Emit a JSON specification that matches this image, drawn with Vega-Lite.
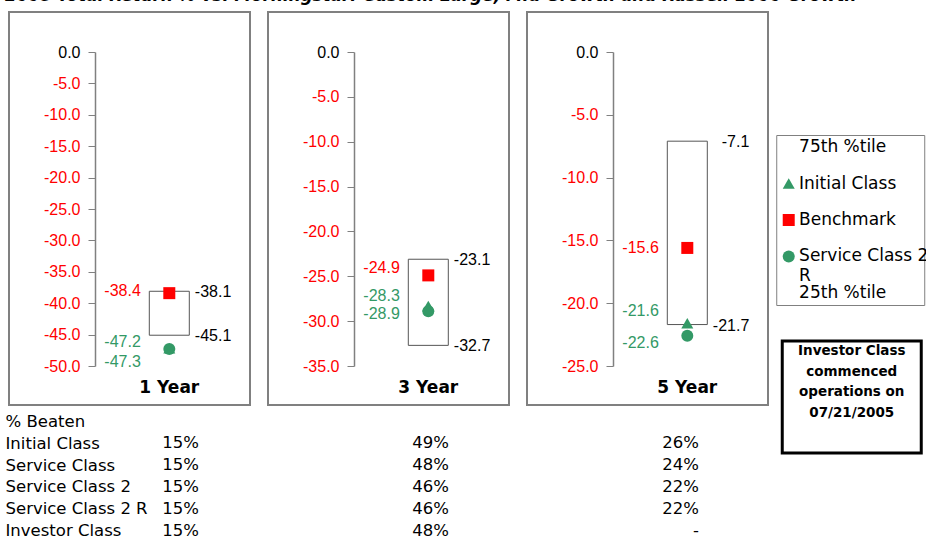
{
  "$schema": "https://vega.github.io/schema/vega-lite/v6.json",
  "padding": {"left": 5, "right": 0, "top": -12, "bottom": 0},
  "title": {"text": "2008 Total Return % vs. Morningstar: Custom Large, Mid Growth and Russell 1000 Growth", "anchor": "start", "font": "DejaVu Sans", "fontSize": 16.8, "fontWeight": "bold", "fontStyle": "italic", "color": "black", "offset": 6},
  "config": {
    "locale": {"number": {"decimal": ".", "thousands": ",", "grouping": [3], "currency": ["$", ""], "minus": "-"}},
    "view": {"stroke": "#808080", "strokeWidth": 2},
    "font": "Liberation Sans",
    "axis": {"labelOverlap": false, "labelSeparation": 0, "labelBound": false},
    "axisY": {"labelOverlap": false, "tickCount": 30}
  },
  "datasets": {
    "stats": [
      {"period": "1 Year", "p75": -38.1, "p25": -45.1},
      {"period": "3 Year", "p75": -23.1, "p25": -32.7},
      {"period": "5 Year", "p75": -7.1, "p25": -21.7}
    ],
    "series": [
      {"period": "1 Year", "series": "Initial Class", "value": -47.2},
      {"period": "1 Year", "series": "Benchmark", "value": -38.4},
      {"period": "1 Year", "series": "Service Class 2 R", "value": -47.3},
      {"period": "3 Year", "series": "Initial Class", "value": -28.3},
      {"period": "3 Year", "series": "Benchmark", "value": -24.9},
      {"period": "3 Year", "series": "Service Class 2 R", "value": -28.9},
      {"period": "5 Year", "series": "Initial Class", "value": -21.6},
      {"period": "5 Year", "series": "Benchmark", "value": -15.6},
      {"period": "5 Year", "series": "Service Class 2 R", "value": -22.6}
    ],
    "legend": [
      {"item": "75th %tile", "label": "75th %tile"},
      {"item": "Initial Class", "series": "Initial Class", "label": "Initial Class"},
      {"item": "Benchmark", "series": "Benchmark", "label": "Benchmark"},
      {"item": "Service Class 2 R", "series": "Service Class 2 R", "label": "Service Class 2\nR"},
      {"item": "25th %tile", "label": "25th %tile"}
    ],
    "beaten": [
      {"cls": "Initial Class", "col": "1 Year", "pct": "15%"},
      {"cls": "Initial Class", "col": "3 Year", "pct": "49%"},
      {"cls": "Initial Class", "col": "5 Year", "pct": "26%"},
      {"cls": "Service Class", "col": "1 Year", "pct": "15%"},
      {"cls": "Service Class", "col": "3 Year", "pct": "48%"},
      {"cls": "Service Class", "col": "5 Year", "pct": "24%"},
      {"cls": "Service Class 2", "col": "1 Year", "pct": "15%"},
      {"cls": "Service Class 2", "col": "3 Year", "pct": "46%"},
      {"cls": "Service Class 2", "col": "5 Year", "pct": "22%"},
      {"cls": "Service Class 2 R", "col": "1 Year", "pct": "15%"},
      {"cls": "Service Class 2 R", "col": "3 Year", "pct": "46%"},
      {"cls": "Service Class 2 R", "col": "5 Year", "pct": "22%"},
      {"cls": "Investor Class", "col": "1 Year", "pct": "15%"},
      {"cls": "Investor Class", "col": "3 Year", "pct": "48%"},
      {"cls": "Investor Class", "col": "5 Year", "pct": "-"}
    ],
    "note": [
      {"t": "Investor Class\ncommenced\noperations on\n07/21/2005"}
    ]
  },
  "spacing": 6,
  "hconcat": [
    {
      "spacing": 7,
      "vconcat": [
        {
          "spacing": 16,
          "resolve": {"scale": {"x": "independent", "y": "independent"}},
          "hconcat": [
            {
              "width": 241, "height": 393,
              "encoding": {
                "x": {"field": "period", "type": "nominal", "scale": {"type": "band", "paddingInner": 0.602, "paddingOuter": 1, "align": 0.698},
                  "axis": {"orient": "bottom", "domain": false, "ticks": false, "tickSize": 0, "labelPadding": 0, "offset": -26, "labelAngle": 0, "labelFont": "DejaVu Sans", "labelFontSize": 17, "labelFontWeight": "bold", "labelColor": "black", "title": null}}
              },
              "layer": [
                {"data": {"name": "stats"}, "transform": [{"filter": "datum.period === '1 Year'"}],
                  "mark": {"type": "bar", "fill": "white", "stroke": "#555555", "strokeWidth": 1},
                  "encoding": {
                    "y": {"field": "p75", "type": "quantitative", "title": null,
                      "scale": {"domain": [-50, 0], "range": [354, 40], "nice": false, "zero": false},
                      "axis": {"values": [0, -5, -10, -15, -20, -25, -30, -35, -40, -45, -50], "tickCount": 30, "format": ".1f", "offset": -86, "tickSize": 7, "labelPadding": 8, "grid": false, "title": null,
                        "labelColor": {"condition": {"test": "datum.value === 0", "value": "black"}, "value": "#FF0000"},
                        "labelFont": "Liberation Sans", "labelFontSize": 16, "domainColor": "#808080", "tickColor": "#808080", "domainWidth": 1.5, "labelOverlap": false}},
                    "y2": {"field": "p25"}
                  }},
                {"data": {"name": "stats"}, "transform": [{"filter": "datum.period === '1 Year'"}, {"fold": ["p75", "p25"], "as": ["k", "v"]}],
                  "mark": {"type": "text", "align": "right", "baseline": "middle", "dx": 62, "dy": 1, "font": "Liberation Sans", "fontSize": 16, "color": "black"},
                  "encoding": {"y": {"field": "v", "type": "quantitative", "title": null}, "text": {"field": "v", "type": "quantitative", "format": ".1f"}}},
                {"data": {"name": "series"}, "transform": [{"filter": "datum.period === '1 Year'"}],
                  "mark": {"type": "point", "filled": true, "size": 144, "opacity": 1},
                  "encoding": {"y": {"field": "value", "type": "quantitative", "title": null},
                    "shape": {"field": "series", "type": "nominal", "scale": {"domain": ["Initial Class", "Benchmark", "Service Class 2 R"], "range": ["triangle-up", "square", "circle"]}, "legend": null},
                    "color": {"field": "series", "type": "nominal", "scale": {"domain": ["Initial Class", "Benchmark", "Service Class 2 R"], "range": ["#339966", "#FF0000", "#339966"]}, "legend": null}}},
                {"data": {"name": "series"}, "transform": [{"filter": "datum.period === '1 Year' && datum.series === 'Benchmark'"}],
                  "mark": {"type": "text", "align": "right", "baseline": "middle", "dx": -28.5, "dy": -2.5, "font": "Liberation Sans", "fontSize": 16, "color": "#FF0000"},
                  "encoding": {"y": {"field": "value", "type": "quantitative", "title": null}, "text": {"field": "value", "type": "quantitative", "format": ".1f"}}},
                {"data": {"name": "series"}, "transform": [{"filter": "datum.period === '1 Year' && datum.series === 'Initial Class'"}],
                  "mark": {"type": "text", "align": "right", "baseline": "middle", "dx": -28.5, "dy": -6, "font": "Liberation Sans", "fontSize": 16, "color": "#339966"},
                  "encoding": {"y": {"field": "value", "type": "quantitative", "title": null}, "text": {"field": "value", "type": "quantitative", "format": ".1f"}}},
                {"data": {"name": "series"}, "transform": [{"filter": "datum.period === '1 Year' && datum.series === 'Service Class 2 R'"}],
                  "mark": {"type": "text", "align": "right", "baseline": "middle", "dx": -28.5, "dy": 12.6, "font": "Liberation Sans", "fontSize": 16, "color": "#339966"},
                  "encoding": {"y": {"field": "value", "type": "quantitative", "title": null}, "text": {"field": "value", "type": "quantitative", "format": ".1f"}}}
              ]
            },
            {
              "width": 241, "height": 393,
              "encoding": {
                "x": {"field": "period", "type": "nominal", "scale": {"type": "band", "paddingInner": 0.602, "paddingOuter": 1, "align": 0.698},
                  "axis": {"orient": "bottom", "domain": false, "ticks": false, "tickSize": 0, "labelPadding": 0, "offset": -26, "labelAngle": 0, "labelFont": "DejaVu Sans", "labelFontSize": 17, "labelFontWeight": "bold", "labelColor": "black", "title": null}}
              },
              "layer": [
                {"data": {"name": "stats"}, "transform": [{"filter": "datum.period === '3 Year'"}],
                  "mark": {"type": "bar", "fill": "white", "stroke": "#555555", "strokeWidth": 1},
                  "encoding": {
                    "y": {"field": "p75", "type": "quantitative", "title": null,
                      "scale": {"domain": [-35, 0], "range": [354, 40], "nice": false, "zero": false},
                      "axis": {"values": [0, -5, -10, -15, -20, -25, -30, -35], "tickCount": 30, "format": ".1f", "offset": -86, "tickSize": 7, "labelPadding": 8, "grid": false, "title": null,
                        "labelColor": {"condition": {"test": "datum.value === 0", "value": "black"}, "value": "#FF0000"},
                        "labelFont": "Liberation Sans", "labelFontSize": 16, "domainColor": "#808080", "tickColor": "#808080", "domainWidth": 1.5, "labelOverlap": false}},
                    "y2": {"field": "p25"}
                  }},
                {"data": {"name": "stats"}, "transform": [{"filter": "datum.period === '3 Year'"}, {"fold": ["p75", "p25"], "as": ["k", "v"]}],
                  "mark": {"type": "text", "align": "right", "baseline": "middle", "dx": 62, "dy": 1, "font": "Liberation Sans", "fontSize": 16, "color": "black"},
                  "encoding": {"y": {"field": "v", "type": "quantitative", "title": null}, "text": {"field": "v", "type": "quantitative", "format": ".1f"}}},
                {"data": {"name": "series"}, "transform": [{"filter": "datum.period === '3 Year'"}],
                  "mark": {"type": "point", "filled": true, "size": 144, "opacity": 1},
                  "encoding": {"y": {"field": "value", "type": "quantitative", "title": null},
                    "shape": {"field": "series", "type": "nominal", "scale": {"domain": ["Initial Class", "Benchmark", "Service Class 2 R"], "range": ["triangle-up", "square", "circle"]}, "legend": null},
                    "color": {"field": "series", "type": "nominal", "scale": {"domain": ["Initial Class", "Benchmark", "Service Class 2 R"], "range": ["#339966", "#FF0000", "#339966"]}, "legend": null}}},
                {"data": {"name": "series"}, "transform": [{"filter": "datum.period === '3 Year' && datum.series === 'Benchmark'"}],
                  "mark": {"type": "text", "align": "right", "baseline": "middle", "dx": -28.5, "dy": -7, "font": "Liberation Sans", "fontSize": 16, "color": "#FF0000"},
                  "encoding": {"y": {"field": "value", "type": "quantitative", "title": null}, "text": {"field": "value", "type": "quantitative", "format": ".1f"}}},
                {"data": {"name": "series"}, "transform": [{"filter": "datum.period === '3 Year' && datum.series === 'Initial Class'"}],
                  "mark": {"type": "text", "align": "right", "baseline": "middle", "dx": -28.5, "dy": -10, "font": "Liberation Sans", "fontSize": 16, "color": "#339966"},
                  "encoding": {"y": {"field": "value", "type": "quantitative", "title": null}, "text": {"field": "value", "type": "quantitative", "format": ".1f"}}},
                {"data": {"name": "series"}, "transform": [{"filter": "datum.period === '3 Year' && datum.series === 'Service Class 2 R'"}],
                  "mark": {"type": "text", "align": "right", "baseline": "middle", "dx": -28.5, "dy": 3, "font": "Liberation Sans", "fontSize": 16, "color": "#339966"},
                  "encoding": {"y": {"field": "value", "type": "quantitative", "title": null}, "text": {"field": "value", "type": "quantitative", "format": ".1f"}}}
              ]
            },
            {
              "width": 241, "height": 393,
              "encoding": {
                "x": {"field": "period", "type": "nominal", "scale": {"type": "band", "paddingInner": 0.602, "paddingOuter": 1, "align": 0.698},
                  "axis": {"orient": "bottom", "domain": false, "ticks": false, "tickSize": 0, "labelPadding": 0, "offset": -26, "labelAngle": 0, "labelFont": "DejaVu Sans", "labelFontSize": 17, "labelFontWeight": "bold", "labelColor": "black", "title": null}}
              },
              "layer": [
                {"data": {"name": "stats"}, "transform": [{"filter": "datum.period === '5 Year'"}],
                  "mark": {"type": "bar", "fill": "white", "stroke": "#555555", "strokeWidth": 1},
                  "encoding": {
                    "y": {"field": "p75", "type": "quantitative", "title": null,
                      "scale": {"domain": [-25, 0], "range": [354, 40], "nice": false, "zero": false},
                      "axis": {"values": [0, -5, -10, -15, -20, -25], "tickCount": 30, "format": ".1f", "offset": -86, "tickSize": 7, "labelPadding": 8, "grid": false, "title": null,
                        "labelColor": {"condition": {"test": "datum.value === 0", "value": "black"}, "value": "#FF0000"},
                        "labelFont": "Liberation Sans", "labelFontSize": 16, "domainColor": "#808080", "tickColor": "#808080", "domainWidth": 1.5, "labelOverlap": false}},
                    "y2": {"field": "p25"}
                  }},
                {"data": {"name": "stats"}, "transform": [{"filter": "datum.period === '5 Year'"}, {"fold": ["p75", "p25"], "as": ["k", "v"]}],
                  "mark": {"type": "text", "align": "right", "baseline": "middle", "dx": 62, "dy": 1, "font": "Liberation Sans", "fontSize": 16, "color": "black"},
                  "encoding": {"y": {"field": "v", "type": "quantitative", "title": null}, "text": {"field": "v", "type": "quantitative", "format": ".1f"}}},
                {"data": {"name": "series"}, "transform": [{"filter": "datum.period === '5 Year'"}],
                  "mark": {"type": "point", "filled": true, "size": 144, "opacity": 1},
                  "encoding": {"y": {"field": "value", "type": "quantitative", "title": null},
                    "shape": {"field": "series", "type": "nominal", "scale": {"domain": ["Initial Class", "Benchmark", "Service Class 2 R"], "range": ["triangle-up", "square", "circle"]}, "legend": null},
                    "color": {"field": "series", "type": "nominal", "scale": {"domain": ["Initial Class", "Benchmark", "Service Class 2 R"], "range": ["#339966", "#FF0000", "#339966"]}, "legend": null}}},
                {"data": {"name": "series"}, "transform": [{"filter": "datum.period === '5 Year' && datum.series === 'Benchmark'"}],
                  "mark": {"type": "text", "align": "right", "baseline": "middle", "dx": -28.5, "dy": 0, "font": "Liberation Sans", "fontSize": 16, "color": "#FF0000"},
                  "encoding": {"y": {"field": "value", "type": "quantitative", "title": null}, "text": {"field": "value", "type": "quantitative", "format": ".1f"}}},
                {"data": {"name": "series"}, "transform": [{"filter": "datum.period === '5 Year' && datum.series === 'Initial Class'"}],
                  "mark": {"type": "text", "align": "right", "baseline": "middle", "dx": -28.5, "dy": -12, "font": "Liberation Sans", "fontSize": 16, "color": "#339966"},
                  "encoding": {"y": {"field": "value", "type": "quantitative", "title": null}, "text": {"field": "value", "type": "quantitative", "format": ".1f"}}},
                {"data": {"name": "series"}, "transform": [{"filter": "datum.period === '5 Year' && datum.series === 'Service Class 2 R'"}],
                  "mark": {"type": "text", "align": "right", "baseline": "middle", "dx": -28.5, "dy": 7.5, "font": "Liberation Sans", "fontSize": 16, "color": "#339966"},
                  "encoding": {"y": {"field": "value", "type": "quantitative", "title": null}, "text": {"field": "value", "type": "quantitative", "format": ".1f"}}}
              ]
            }
          ]
        },
        {
          "width": 700, "height": 118,
          "view": {"stroke": null},
          "data": {"name": "beaten"},
          "mark": {"type": "text", "align": "right", "baseline": "middle", "font": "DejaVu Sans", "fontSize": 16.5, "color": "black"},
          "encoding": {
            "y": {"field": "cls", "type": "nominal",
              "scale": {"type": "point", "padding": 0.2, "domain": ["% Beaten", "Initial Class", "Service Class", "Service Class 2", "Service Class 2 R", "Investor Class"]},
              "axis": {"orient": "left", "domain": false, "ticks": false, "tickSize": 0, "labelPadding": 4, "labelAlign": "left", "labelFont": "DejaVu Sans", "labelFontSize": 16.5, "labelColor": "black", "labelLimit": 300, "title": null}},
            "x": {"field": "col", "type": "nominal", "scale": {"type": "point", "padding": 0.4, "align": 0.95, "domain": ["1 Year", "3 Year", "5 Year"]}, "axis": null},
            "text": {"field": "pct", "type": "nominal"}
          }
        }
      ]
    },
    {
      "spacing": 33,
      "center": true,
      "vconcat": [
        {"width": 148, "height": 89, "view": {"stroke": null}, "data": {"values": []}, "mark": "point"},
        {
          "width": 148, "height": 170,
          "view": {"stroke": "#808080", "strokeWidth": 1},
          "data": {"name": "legend"},
          "encoding": {
            "y": {"field": "item", "type": "nominal", "scale": {"type": "point", "padding": 0.329, "domain": ["75th %tile", "Initial Class", "Benchmark", "Service Class 2 R", "25th %tile"]}, "axis": null}
          },
          "layer": [
            {"transform": [{"filter": "isValid(datum.series)"}],
              "mark": {"type": "point", "filled": true, "size": 144, "opacity": 1},
              "encoding": {
                "x": {"datum": 13.5, "type": "quantitative", "scale": {"domain": [0, 148]}, "axis": null},
                "shape": {"field": "series", "type": "nominal", "scale": {"domain": ["Initial Class", "Benchmark", "Service Class 2 R"], "range": ["triangle-up", "square", "circle"]}, "legend": null},
                "color": {"field": "series", "type": "nominal", "scale": {"domain": ["Initial Class", "Benchmark", "Service Class 2 R"], "range": ["#339966", "#FF0000", "#339966"]}, "legend": null}
              }},
            {"mark": {"type": "text", "align": "left", "baseline": "middle", "font": "DejaVu Sans", "fontSize": 17, "color": "black", "lineBreak": "\n", "lineHeight": 20},
              "encoding": {"x": {"datum": 24.7, "type": "quantitative"}, "text": {"field": "label", "type": "nominal"}}}
          ]
        },
        {
          "width": 139, "height": 112,
          "view": {"stroke": "black", "strokeWidth": 3},
          "data": {"name": "note"},
          "mark": {"type": "text", "align": "center", "baseline": "middle", "font": "DejaVu Sans", "fontWeight": "bold", "fontSize": 13.5, "color": "black", "lineBreak": "\n", "lineHeight": 20.6, "dy": -46},
          "encoding": {"text": {"field": "t", "type": "nominal"}}
        }
      ]
    }
  ]
}
